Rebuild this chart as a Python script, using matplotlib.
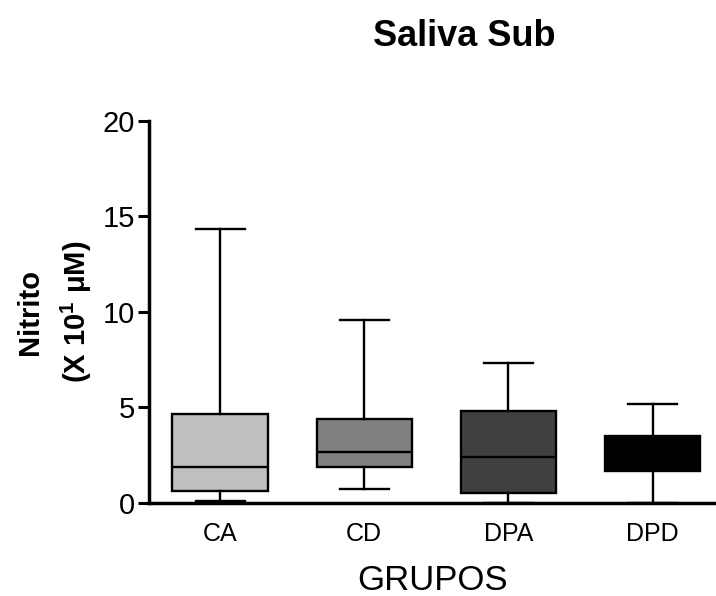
import matplotlib
matplotlib.use("Agg")
import matplotlib.pyplot as plt

plt.rcParams['font.family'] = ['Liberation Sans', 'DejaVu Sans']
plt.rcParams['mathtext.fontset'] = 'custom'
plt.rcParams['mathtext.rm'] = 'Liberation Sans'
plt.rcParams['mathtext.bf'] = 'Liberation Sans:bold'

groups = ["CA", "CD", "DPA", "DPD"]
whislo = [0.1, 0.73, 0.0, 0.0]
q1 = [0.63, 1.85, 0.49, 1.68]
med = [1.88, 2.65, 2.39, 2.55]
q3 = [4.63, 4.37, 4.80, 3.49]
whishi = [14.31, 9.57, 7.30, 5.15]
colors = ["#c0c0c0", "#808080", "#404040", "#000000"]
yticks = [0, 5, 10, 15, 20]

fig = plt.figure(figsize=(7.16, 5.96), dpi=100)
ax = fig.add_axes([149/716, 1-502.7/596, 1-149/716, (502.7-120.7)/596])

stats = []
for i, g in enumerate(groups):
    stats.append(dict(label=g, whislo=whislo[i], q1=q1[i], med=med[i],
                      q3=q3[i], whishi=whishi[i], fliers=[]))

lw = 1.7
ec = 'black'
bp = ax.bxp(stats, positions=[1, 2, 3, 4], widths=0.66, patch_artist=True,
            showfliers=False,
            boxprops=dict(linewidth=lw, edgecolor=ec),
            medianprops=dict(color=ec, linewidth=lw),
            whiskerprops=dict(color=ec, linewidth=lw),
            capprops=dict(color=ec, linewidth=lw),
            capwidths=0.34)
for patch, c in zip(bp['boxes'], colors):
    patch.set_facecolor(c)

ax.set_xlim(0.507, 4.44)
ax.set_ylim(0, 20)
ax.set_yticks(yticks)
ax.spines['top'].set_visible(False)
ax.spines['right'].set_visible(False)
ax.spines['left'].set_linewidth(2.5)
ax.spines['bottom'].set_linewidth(2.5)
ax.tick_params(axis='y', length=8, width=2.2, labelsize=21, pad=2)
ax.tick_params(axis='x', length=0, labelsize=18, pad=14)

ax.set_ylabel("Nitrito\n(X 10$^{\\mathbf{1}}$ $\\mathbf{\\mu}$M)", fontsize=21,
              fontweight='bold', labelpad=6, linespacing=1.55)
ax.set_xlabel("GRUPOS", fontsize=25, labelpad=13)
fig.text(464/716, 1-36/596, "Saliva Sub", fontsize=26, fontweight='bold',
         ha='center', va='center')

fig.savefig("out.png", dpi=100)
